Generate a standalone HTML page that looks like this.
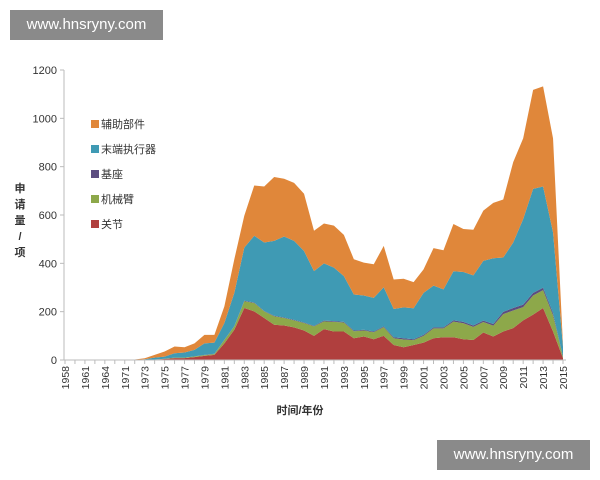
<!DOCTYPE html>
<html><head><meta charset="utf-8"><style>
body{margin:0;background:#fff;width:600px;height:480px;overflow:hidden;font-family:"Liberation Sans","Noto Sans CJK SC",sans-serif}
.wm{position:absolute;background:#8a8a8a;color:#fff;font-size:15px;line-height:30px;text-align:center;width:153px}
</style></head><body>
<div class="wm" style="left:10px;top:10px">www.hnsryny.com</div>
<div class="wm" style="left:437px;top:440px">www.hnsryny.com</div>
<svg id="chart" width="600" height="480" style="position:absolute;left:0;top:0;z-index:-1"></svg>
<script>
const categories=['1958','1960','1961','1963','1964','1970','1971','1972','1973','1974','1975','1976','1977','1978','1979','1980','1981','1982','1983','1984','1985','1986','1987','1988','1989','1990','1991','1992','1993','1994','1995','1996','1997','1998','1999','2000','2001','2002','2003','2004','2005','2006','2007','2008','2009','2010','2011','2012','2013','2014','2015'];
const jointVals=[0,0,0,0,0,0,0,0,1,2,4,8,8,12,17,21,69,125,215,201,174,146,143,135,122,100,128,118,118,90,97,86,100,62,53,62,72,90,94,94,86,83,114,97,118,132,164,188,215,118,7];
const armVals=[0,0,0,0,0,0,0,0,0,0,1,2,2,3,3,4,14,14,28,35,27,35,31,29,31,39,32,40,37,29,25,29,36,28,32,20,28,41,37,65,66,54,43,45,72,73,55,79,74,67,5];
const baseVals=[0,0,0,0,0,0,0,0,0,0,0,0,0,0,1,1,1,1,2,2,2,2,2,2,2,2,3,3,3,3,3,3,3,4,5,4,4,4,4,5,6,6,6,7,9,10,10,11,10,9,2];
const effectorVals=[0,0,0,0,0,0,0,0,2,8,9,18,21,27,48,46,69,138,220,276,283,310,335,327,296,227,237,221,189,149,142,139,162,117,128,128,174,173,157,203,206,207,247,272,225,271,354,430,419,334,41];
const auxVals=[0,0,0,1,2,1,1,2,4,11,21,28,22,27,35,32,69,139,132,208,232,264,239,240,237,167,165,174,171,146,136,139,171,122,118,108,97,155,162,196,178,189,208,229,240,333,334,410,414,389,5];
const yTicks=[0,200,400,600,800,1000,1200];
const seriesNames=['关节','机械臂','基座','末端执行器','辅助部件'];
const seriesKeys=['joint','arm','base','effector','aux'];
const colors=['#B03F3E','#8DA84A','#5C4D80','#3F9AB4','#E0873A'];
const series=[jointVals,armVals,baseVals,effectorVals,auxVals];
const NS='http://www.w3.org/2000/svg',svg=document.getElementById('chart');
const X0=64,X1=563,Y0=360,Y1=70,YMAX=1200;
const xs=i=>X0+1+(X1-X0-1)*i/(categories.length-1);
const ys=v=>Y0-(Y0-Y1)*v/YMAX;
function el(t,a,p){const e=document.createElementNS(NS,t);for(const k in a)e.setAttribute(k,a[k]);(p||svg).appendChild(e);return e;}
let cum=categories.map(()=>0);
for(let s=0;s<series.length;s++){
  const low=cum.slice();cum=cum.map((c,i)=>c+series[s][i]);
  let d='';categories.forEach((c,i)=>{d+=(i?'L':'M')+xs(i)+','+ys(cum[i]);});
  for(let i=categories.length-1;i>=0;i--)d+='L'+xs(i)+','+ys(low[i]);
  const p=el('path',{d:d+'Z',fill:colors[s]});
  
  
}
el('line',{x1:X0,y1:Y1,x2:X0,y2:Y0,stroke:'#bbb'});
el('line',{x1:X0,y1:Y0,x2:X1+3,y2:Y0,stroke:'#bbb'});
yTicks.forEach(v=>{
  el('line',{x1:X0-4,y1:ys(v),x2:X0,y2:ys(v),stroke:'#bbb'});
  const t=el('text',{x:X0-7,y:ys(v)+4,'text-anchor':'end','font-size':'11',fill:'#333'});t.textContent=v;
  
  
});
categories.forEach((c,i)=>{
  el('line',{x1:xs(i),y1:Y0,x2:xs(i),y2:Y0+4,stroke:'#bbb'});
  if(i%2===0){const t=el('text',{transform:`translate(${xs(i)+4},${Y0+6}) rotate(-90)`,'text-anchor':'end','font-size':'10.5',fill:'#333'});t.textContent=c;
  
  }
});
const yt=el('text',{x:20,y:192,'font-size':'11','font-weight':'bold',fill:'#333','text-anchor':'middle'});


['申','请','量','/','项'].forEach((ch,i)=>{const s=el('tspan',{x:20,y:192+i*16},yt);s.textContent=ch;});
const xt=el('text',{x:300,y:414,'font-size':'11','font-weight':'bold',fill:'#333','text-anchor':'middle'});xt.textContent='时间/年份';


for(let k=0;k<5;k++){
  const s=4-k,y=128+k*25;
  const g=el('g',{});
  
  
  el('rect',{x:91,y:y-8,width:8,height:8,fill:colors[s]},g);
  const t=el('text',{x:101,y:y,'font-size':'11',fill:'#333'},g);t.textContent=seriesNames[s];
}
</script>
</body></html>
